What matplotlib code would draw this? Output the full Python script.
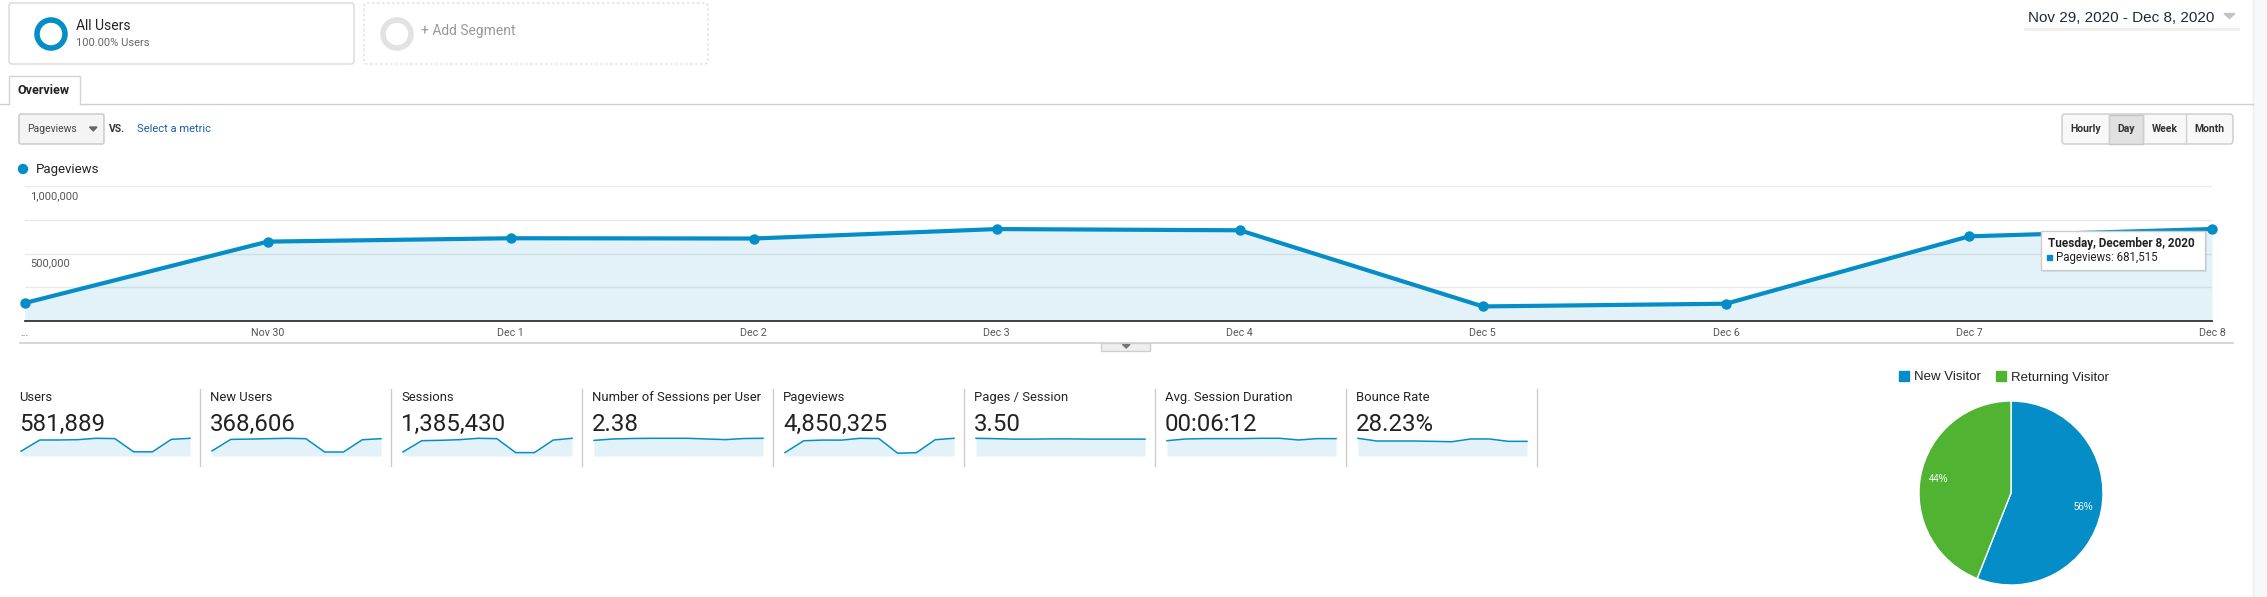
import matplotlib
matplotlib.use('Agg')
import matplotlib.pyplot as plt
from matplotlib.patches import FancyBboxPatch, Rectangle, Circle, Polygon

W, H = 2267, 597
BLUE = '#058dc7'
GREEN = '#50b432'

plt.rcParams['font.family'] = ['Roboto', 'DejaVu Sans']

# --- data ---
days = ['...', 'Nov 30', 'Dec 1', 'Dec 2', 'Dec 3', 'Dec 4', 'Dec 5', 'Dec 6', 'Dec 7', 'Dec 8']
pageviews = [133000, 588000, 613000, 611000, 681000, 672000, 108000, 128000, 627000, 681515]
y_ticks = [500000, 1000000]
y_tick_labels = ['500,000', '1,000,000']

metric_names = ['Users', 'New Users', 'Sessions', 'Number of Sessions per User',
                'Pageviews', 'Pages / Session', 'Avg. Session Duration', 'Bounce Rate']
metric_totals = ['581,889', '368,606', '1,385,430', '2.38',
                 '4,850,325', '3.50', '00:06:12', '28.23%']

users_daily = [31000, 104000, 104000, 106000, 115000, 113000, 27000, 27000, 108000, 115000]
new_users_daily = [18900, 62000, 63000, 64600, 66000, 64600, 14800, 14800, 60600, 64600]
sessions_daily = [32500, 122000, 125000, 130000, 141000, 138000, 27000, 27000, 127000, 141000]
sessions_per_user = [2.25, 2.45, 2.52, 2.55, 2.55, 2.55, 2.45, 2.36, 2.52, 2.55]
pages_per_session = [3.62, 3.55, 3.45, 3.45, 3.50, 3.50, 3.45, 3.45, 3.45, 3.45]
avg_duration_sec = [338, 375, 383, 383, 383, 390, 390, 353, 383, 383]
bounce_rate = [32.0, 27.1, 27.1, 27.1, 26.5, 25.8, 30.8, 30.8, 26.5, 26.5]
sparklines = [users_daily, new_users_daily, sessions_daily, sessions_per_user,
              pageviews, pages_per_session, avg_duration_sec, bounce_rate]

visitor_types = ['New Visitor', 'Returning Visitor']
visitor_share = [56, 44]

tooltip_title = 'Tuesday, December 8, 2020'
tooltip_value = 'Pageviews: 681,515'
date_range = 'Nov 29, 2020 - Dec 8, 2020'
intervals = ['Hourly', 'Day', 'Week', 'Month']

fig = plt.figure(figsize=(W / 100, H / 100), dpi=100)
fig.patch.set_facecolor('white')


def px_axes(x0, y0, x1, y1, z=1):
    a = fig.add_axes([x0 / W, 1 - y1 / H, (x1 - x0) / W, (y1 - y0) / H])
    a.set_zorder(z)
    return a


# background layer in pixel coordinates
bg = fig.add_axes([0, 0, 1, 1])
bg.set_zorder(0)
bg.set_xlim(0, W)
bg.set_ylim(H, 0)
bg.axis('off')

# right sidebar
bg.add_patch(Rectangle((2253, 0), W - 2253, H, fc='#f7f8fa', ec='none'))
bg.plot([2253, 2253], [0, H], color='#eceef1', lw=1)

# segment boxes
bg.add_patch(FancyBboxPatch((9, 3), 345, 61, boxstyle='round,pad=0,rounding_size=3',
                            fc='white', ec='#d9d9d9', lw=1))
bg.add_patch(Circle((51, 34), 14, fill=False, ec=BLUE, lw=4))
bg.text(76, 30.5, 'All Users', fontsize=10, color='#222', va='baseline')
bg.text(76, 45.5, '100.00% Users', fontsize=8, color='#666', va='baseline')
bg.add_patch(FancyBboxPatch((364, 3), 344, 61, boxstyle='round,pad=0,rounding_size=3',
                            fc='white', ec='#dcdcdc', lw=0.9, ls=(0, (2, 2))))
bg.add_patch(Circle((397, 34), 14, fill=False, ec='#e2e2e2', lw=4))
bg.text(421, 35.5, '+ Add Segment', fontsize=10, color='#999', va='baseline')

# date range
bg.text(2028, 22, date_range, fontsize=11, color='#1b2a3a', va='baseline',
        family=['Liberation Sans', 'DejaVu Sans'])
bg.add_patch(Polygon([(2224, 13.5), (2235, 13.5), (2229.5, 18.5)], color='#c4c4c4'))
bg.plot([2025, 2238], [29, 29], color='#eeeeee', lw=2)

# overview tab
bg.plot([0, 9], [103.5, 103.5], color='#cfcfcf', lw=1)
bg.plot([80, 2253], [103.5, 103.5], color='#cfcfcf', lw=1)
bg.plot([9, 9, 80, 80], [103.5, 76, 76, 103.5], color='#d4d4d4', lw=1)
bg.text(18, 94, 'Overview', fontsize=9, fontweight='bold', color='#222', va='baseline')

# metric dropdown
bg.add_patch(FancyBboxPatch((19, 114), 85, 30, boxstyle='round,pad=0,rounding_size=2',
                            fc='#f4f4f4', ec='#c6c6c6', lw=1))
bg.text(27, 132.5, 'Pageviews', fontsize=7.5, color='#444', va='baseline')
bg.add_patch(Polygon([(89.5, 127), (97, 127), (93.25, 131)], color='#666'))
bg.text(109, 132, 'VS.', fontsize=7.5, fontweight='bold', color='#333', va='baseline')
bg.text(137, 132, 'Select a metric', fontsize=8, color='#1a5fa8', va='baseline')

# interval buttons
bx = [2062, 2109, 2143, 2186, 2233]
bg.add_patch(FancyBboxPatch((bx[0], 114), bx[-1] - bx[0], 30,
                            boxstyle='round,pad=0,rounding_size=3',
                            fc='#f8f8f8', ec='#cacaca', lw=1))
bg.add_patch(Rectangle((bx[1], 114.5), bx[2] - bx[1], 29, fc='#e1e1e1', ec='#c4c4c4', lw=1))
for i, lab in enumerate(intervals):
    bg.text((bx[i] + bx[i + 1]) / 2, 132.5, lab, fontsize=7.5, fontweight='bold',
            color='#333', ha='center', va='baseline')
for xx in bx[1:-1]:
    bg.plot([xx, xx], [114.5, 143.5], color='#d0d0d0', lw=1)

# series legend
bg.add_patch(Circle((23, 169), 4.5, color=BLUE))
bg.text(36, 173, 'Pageviews', fontsize=9.5, color='#222', va='baseline')

# line under chart with small collapse tab
bg.plot([20, 2233], [342.5, 342.5], color='#d0d0d0', lw=1.2)
bg.add_patch(Rectangle((1101, 342.5), 49, 8, fc='#efefef', ec='#cfcfcf', lw=1))
bg.add_patch(Polygon([(1122.5, 344.5), (1130, 344.5), (1126.25, 348)], color='#777'))

# main chart
ax = px_axes(24.6, 186, 2212, 321, z=2)
ax.set_xlim(0, len(days) - 1)
ax.set_ylim(0, 1000000)
ax.patch.set_alpha(0)
for v in [250000, 500000, 750000, 1000000]:
    ax.axhline(v, color='#e9e9e9', lw=1, zorder=0)
x = list(range(len(days)))
ax.fill_between(x, pageviews, color=BLUE, alpha=0.11, lw=0, zorder=1)
ax.plot(x, pageviews, color=BLUE, lw=3, marker='o', ms=6.5, clip_on=False,
        solid_joinstyle='round', zorder=3)
for s in ['top', 'left', 'right']:
    ax.spines[s].set_visible(False)
ax.spines['bottom'].set_color('#333')
ax.spines['bottom'].set_linewidth(1.3)
ax.set_yticks([])
ax.set_xticks(x)
ax.set_xticklabels(days)
ax.tick_params(axis='x', length=0, pad=5, labelsize=7.7, labelcolor='#555')
for v, lab in zip(y_ticks, y_tick_labels):
    ax.annotate(lab, xy=(0, v), xycoords=('axes fraction', 'data'), xytext=(4, -3.5),
                textcoords='offset points', va='top', ha='left', fontsize=8, color='#555')

# metric tiles with sparklines
for i, (name, total, vals) in enumerate(zip(metric_names, metric_totals, sparklines)):
    cx = 19 + 191 * i
    bg.text(cx, 400.7, name, fontsize=9.4, color='#222', va='baseline')
    bg.text(cx, 431, total, fontsize=17.3, color='#222', va='baseline')
    bg.plot([cx + 180.5, cx + 180.5], [389, 466], color='#cccccc', lw=1)
    sp = px_axes(cx + 2, 438.3, cx + 171, 456, z=2)
    sp.set_xlim(0, len(vals) - 1)
    sp.set_ylim(0, max(vals))
    sp.fill_between(range(len(vals)), vals, color=BLUE, alpha=0.11, lw=0)
    sp.plot(range(len(vals)), vals, color=BLUE, lw=1.1, clip_on=False)
    sp.axis('off')

# pie of visitor type
pa = px_axes(2011 - 92, 493 - 92, 2011 + 92, 493 + 92, z=2)
pa.pie(visitor_share, colors=[BLUE, GREEN], startangle=90, counterclock=False,
       autopct=lambda p: f'{p:.0f}%', pctdistance=0.8,
       wedgeprops=dict(edgecolor='white', linewidth=1),
       textprops=dict(color='white', fontsize=7, family=['Liberation Sans', 'DejaVu Sans']))
pa.set_xlim(-1, 1)
pa.set_ylim(-1, 1)

lx = [1899, 1996]
for xx, lab, col in zip(lx, visitor_types, [BLUE, GREEN]):
    bg.add_patch(Rectangle((xx, 371), 10, 10, color=col))
    bg.text(xx + 15, 376, lab, fontsize=9.5, color='#222', va='center_baseline',
            family=['Liberation Sans', 'DejaVu Sans'])

# tooltip on top of everything
fg = fig.add_axes([0, 0, 1, 1])
fg.set_zorder(5)
fg.set_xlim(0, W)
fg.set_ylim(H, 0)
fg.axis('off')
fg.patch.set_alpha(0)
fg.add_patch(Rectangle((2043, 233), 164, 39, fc='#000000', alpha=0.08, ec='none'))
fg.add_patch(Rectangle((2041, 231), 164, 39, fc='white', ec='#cccccc', lw=1))
fg.text(2048, 247, tooltip_title, fontsize=8.5, fontweight='bold', color='#222', va='baseline')
fg.add_patch(Rectangle((2047, 255), 4.5, 4.5, color=BLUE))
fg.text(2056, 261, tooltip_value, fontsize=8.3, color='#222', va='baseline')

fig.savefig('out.png', dpi=100)
